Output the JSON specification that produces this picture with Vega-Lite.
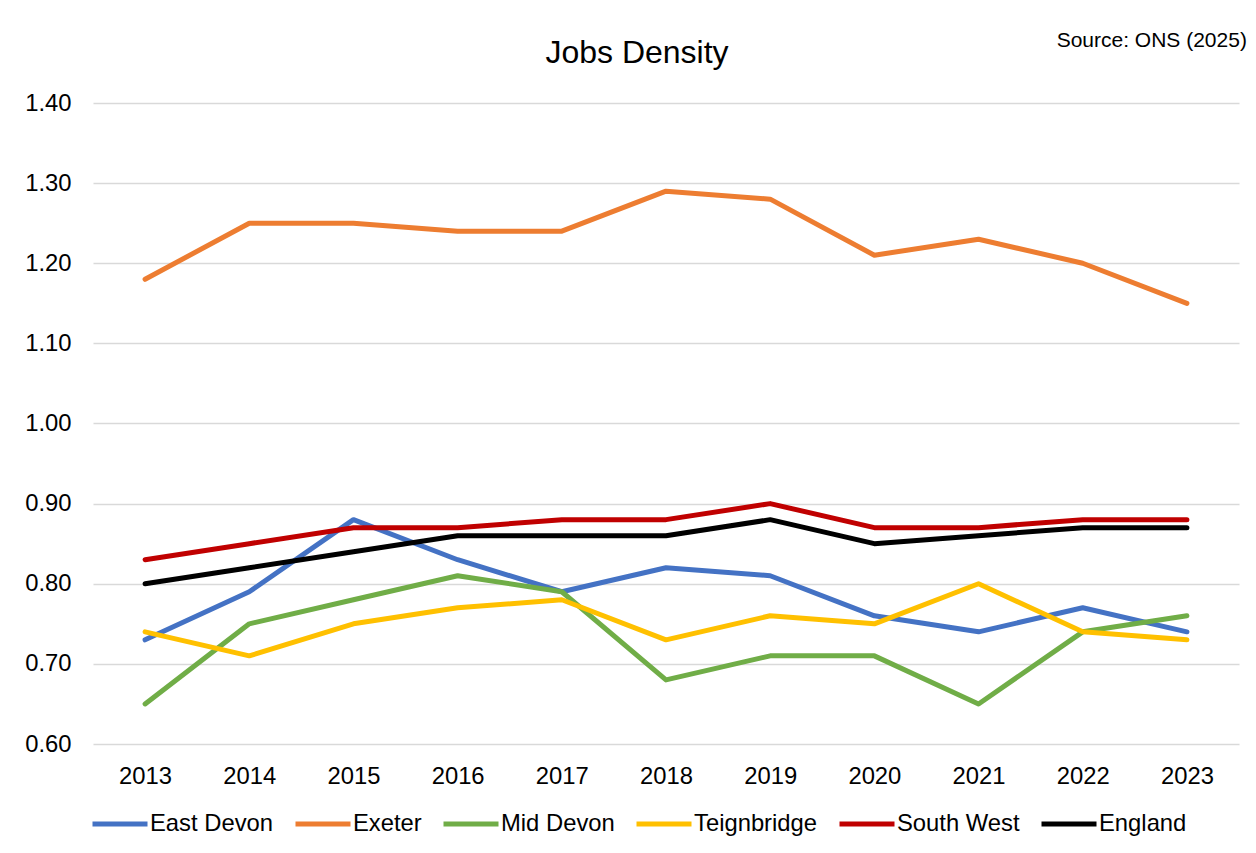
{
  "$schema": "https://vega.github.io/schema/vega-lite/v6.json",
  "width": 1146,
  "height": 641,
  "autosize": {"type": "none"},
  "padding": {"left": 93, "top": 103, "right": 17, "bottom": 109},
  "background": "white",
  "config": {
    "view": {"stroke": null},
    "font": "Liberation Sans",
    "axis": {
      "labelFont": "Liberation Sans",
      "labelColor": "#000000",
      "grid": false,
      "domain": false,
      "ticks": false,
      "title": null
    }
  },
  "datasets": {
    "jobs": [
      {"area": "East Devon", "year": "2013", "value": 0.73},
      {"area": "East Devon", "year": "2014", "value": 0.79},
      {"area": "East Devon", "year": "2015", "value": 0.88},
      {"area": "East Devon", "year": "2016", "value": 0.83},
      {"area": "East Devon", "year": "2017", "value": 0.79},
      {"area": "East Devon", "year": "2018", "value": 0.82},
      {"area": "East Devon", "year": "2019", "value": 0.81},
      {"area": "East Devon", "year": "2020", "value": 0.76},
      {"area": "East Devon", "year": "2021", "value": 0.74},
      {"area": "East Devon", "year": "2022", "value": 0.77},
      {"area": "East Devon", "year": "2023", "value": 0.74},
      {"area": "Exeter", "year": "2013", "value": 1.18},
      {"area": "Exeter", "year": "2014", "value": 1.25},
      {"area": "Exeter", "year": "2015", "value": 1.25},
      {"area": "Exeter", "year": "2016", "value": 1.24},
      {"area": "Exeter", "year": "2017", "value": 1.24},
      {"area": "Exeter", "year": "2018", "value": 1.29},
      {"area": "Exeter", "year": "2019", "value": 1.28},
      {"area": "Exeter", "year": "2020", "value": 1.21},
      {"area": "Exeter", "year": "2021", "value": 1.23},
      {"area": "Exeter", "year": "2022", "value": 1.20},
      {"area": "Exeter", "year": "2023", "value": 1.15},
      {"area": "Mid Devon", "year": "2013", "value": 0.65},
      {"area": "Mid Devon", "year": "2014", "value": 0.75},
      {"area": "Mid Devon", "year": "2015", "value": 0.78},
      {"area": "Mid Devon", "year": "2016", "value": 0.81},
      {"area": "Mid Devon", "year": "2017", "value": 0.79},
      {"area": "Mid Devon", "year": "2018", "value": 0.68},
      {"area": "Mid Devon", "year": "2019", "value": 0.71},
      {"area": "Mid Devon", "year": "2020", "value": 0.71},
      {"area": "Mid Devon", "year": "2021", "value": 0.65},
      {"area": "Mid Devon", "year": "2022", "value": 0.74},
      {"area": "Mid Devon", "year": "2023", "value": 0.76},
      {"area": "Teignbridge", "year": "2013", "value": 0.74},
      {"area": "Teignbridge", "year": "2014", "value": 0.71},
      {"area": "Teignbridge", "year": "2015", "value": 0.75},
      {"area": "Teignbridge", "year": "2016", "value": 0.77},
      {"area": "Teignbridge", "year": "2017", "value": 0.78},
      {"area": "Teignbridge", "year": "2018", "value": 0.73},
      {"area": "Teignbridge", "year": "2019", "value": 0.76},
      {"area": "Teignbridge", "year": "2020", "value": 0.75},
      {"area": "Teignbridge", "year": "2021", "value": 0.80},
      {"area": "Teignbridge", "year": "2022", "value": 0.74},
      {"area": "Teignbridge", "year": "2023", "value": 0.73},
      {"area": "South West", "year": "2013", "value": 0.83},
      {"area": "South West", "year": "2014", "value": 0.85},
      {"area": "South West", "year": "2015", "value": 0.87},
      {"area": "South West", "year": "2016", "value": 0.87},
      {"area": "South West", "year": "2017", "value": 0.88},
      {"area": "South West", "year": "2018", "value": 0.88},
      {"area": "South West", "year": "2019", "value": 0.90},
      {"area": "South West", "year": "2020", "value": 0.87},
      {"area": "South West", "year": "2021", "value": 0.87},
      {"area": "South West", "year": "2022", "value": 0.88},
      {"area": "South West", "year": "2023", "value": 0.88},
      {"area": "England", "year": "2013", "value": 0.80},
      {"area": "England", "year": "2014", "value": 0.82},
      {"area": "England", "year": "2015", "value": 0.84},
      {"area": "England", "year": "2016", "value": 0.86},
      {"area": "England", "year": "2017", "value": 0.86},
      {"area": "England", "year": "2018", "value": 0.86},
      {"area": "England", "year": "2019", "value": 0.88},
      {"area": "England", "year": "2020", "value": 0.85},
      {"area": "England", "year": "2021", "value": 0.86},
      {"area": "England", "year": "2022", "value": 0.87},
      {"area": "England", "year": "2023", "value": 0.87}
    ],
    "source": [{"label": "Source: ONS (2025)"}],
    "heading": [{"label": "Jobs Density"}]
  },
  "layer": [
    {
      "data": {"name": "jobs"},
      "mark": {"type": "line", "strokeWidth": 5, "strokeCap": "round", "strokeJoin": "round"},
      "encoding": {
        "x": {
          "field": "year",
          "type": "ordinal",
          "scale": {"type": "point", "padding": 0.5},
          "axis": {
            "labelAngle": 0,
            "labelFontSize": 23.8,
            "labelPadding": 20,
            "labelBaseline": "top"
          }
        },
        "y": {
          "field": "value",
          "type": "quantitative",
          "scale": {"domain": [0.6, 1.4], "nice": false, "zero": false},
          "axis": {
            "values": [0.6, 0.7, 0.8, 0.9, 1.0, 1.1, 1.2, 1.3, 1.4],
            "format": ".2f",
            "labelFontSize": 23.8,
            "labelPadding": 22,
            "grid": true,
            "gridColor": "#d9d9d9",
            "gridWidth": 1.5
          }
        },
        "color": {
          "field": "area",
          "type": "nominal",
          "scale": {
            "domain": ["East Devon", "Exeter", "Mid Devon", "Teignbridge", "South West", "England"],
            "range": ["#4472C4", "#ED7D31", "#70AD47", "#FFC000", "#C00000", "#000000"]
          },
          "legend": {
            "title": null,
            "orient": "none",
            "direction": "horizontal",
            "legendX": -3,
            "legendY": 691,
            "symbolType": "stroke",
            "symbolSize": 3025,
            "symbolStrokeWidth": 5,
            "labelFont": "Liberation Sans",
            "labelFontSize": 23.8,
            "labelColor": "#000000",
            "labelOffset": 0,
            "columnPadding": 11,
            "labelLimit": 300
          }
        },
        "order": {"field": "area"}
      }
    },
    {
      "data": {"name": "heading"},
      "mark": {
        "type": "text",
        "align": "center",
        "baseline": "alphabetic",
        "dx": -29,
        "dy": -40,
        "font": "Liberation Sans",
        "fontSize": 32,
        "color": "#000000"
      },
      "encoding": {
        "x": {"datum": "2018"},
        "y": {"datum": 1.4},
        "text": {"field": "label"}
      }
    },
    {
      "data": {"name": "source"},
      "mark": {
        "type": "text",
        "align": "right",
        "baseline": "alphabetic",
        "dx": 60,
        "dy": -56,
        "font": "Liberation Sans",
        "fontSize": 21,
        "color": "#000000"
      },
      "encoding": {
        "x": {"datum": "2023"},
        "y": {"datum": 1.4},
        "text": {"field": "label"}
      }
    }
  ]
}
